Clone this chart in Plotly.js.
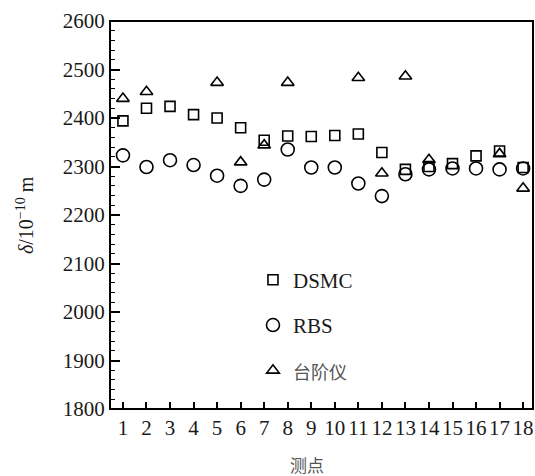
<!DOCTYPE html>
<html>
<head>
<meta charset="utf-8">
<script src="https://cdn.plot.ly/plotly-3.0.1.min.js"></script>
<style>html,body{margin:0;padding:0;background:#fff;}#chart{width:535px;height:476px;}</style>
</head>
<body>
<div id="chart"></div>
<script>
const points = [1,2,3,4,5,6,7,8,9,10,11,12,13,14,15,16,17,18];
const tickLabels = points.map(String);
const dsmc = [2394, 2420, 2424, 2407, 2400, 2380, 2354, 2363, 2362, 2364, 2367, 2329, 2294, 2300, 2306, 2322, 2332, 2298];
const rbs  = [2323, 2299, 2313, 2303, 2281, 2260, 2273, 2335, 2298, 2298, 2265, 2239, 2284, 2294, 2296, 2296, 2294, 2296];
const step = [2440, 2454, null, null, 2473, 2309, 2344, 2473, null, null, 2483, 2286, 2486, 2314, null, null, 2326, 2255];

const serif = 'Liberation Serif, Times New Roman, serif';
const cjk = 'Noto Sans CJK SC, sans-serif';

const mk = (sym, size) => ({symbol: sym, size: size, color: 'black', line: {color: 'black', width: 1.6}});

const traces = [
  {x: points, y: dsmc, type: 'scatter', mode: 'markers', name: 'DSMC', legendgroup: 'a', marker: mk('square-open', 10)},
  {x: points, y: rbs, type: 'scatter', mode: 'markers', name: 'RBS', legendgroup: 'b', marker: mk('circle-open', 13)},
  {x: points, y: step, type: 'scatter', mode: 'markers', name: '<span style="font-family:Noto Sans CJK SC;font-size:18px;color:#555">台阶仪</span>', legendgroup: 'c', marker: mk('triangle-up-open', 11)}
];

const layout = {
  width: 535, height: 476,
  margin: {l: 110, r: 2, t: 21, b: 67},
  paper_bgcolor: 'white', plot_bgcolor: 'white',
  font: {family: serif, size: 20, color: '#1a1a1a'},
  showlegend: true,
  legend: {x: 0.338, y: 0.385, xanchor: 'left', yanchor: 'top', bgcolor: 'rgba(0,0,0,0)',
           font: {family: serif, size: 21, color: '#1a1a1a'}, traceorder: 'grouped', tracegroupgap: 15},
  xaxis: {
    range: [0.45, 18.42], tickmode: 'array', tickvals: points, ticktext: tickLabels,
    ticks: 'inside', ticklen: 7, tickwidth: 2, tickcolor: 'black',
    showline: true, linecolor: 'black', linewidth: 1, mirror: true,
    showgrid: false, zeroline: false, tickfont: {family: serif, size: 21, color: '#1a1a1a'}
  },
  yaxis: {
    range: [1800, 2600], tickmode: 'linear', tick0: 1800, dtick: 100,
    ticks: 'inside', ticklen: 10, tickwidth: 2, tickcolor: 'black',
    minor: {ticks: 'inside', ticklen: 5, tickwidth: 1, tickcolor: 'black', dtick: 20, showgrid: false},
    showline: true, linecolor: 'black', linewidth: 1, mirror: true,
    showgrid: false, zeroline: false, tickfont: {family: serif, size: 21, color: '#1a1a1a'}
  },
  shapes: [
    {type: 'rect', xref: 'paper', yref: 'paper', x0: 0, x1: 1, y0: 0, y1: 1, line: {color: 'black', width: 2}, fillcolor: 'rgba(0,0,0,0)'}
  ],
  annotations: [
    {text: '测点', xref: 'paper', yref: 'paper', x: (307-110)/423, y: -(464-409)/388, xanchor: 'center', yanchor: 'middle',
     showarrow: false, font: {family: cjk, size: 17, color: '#555'}},
    {text: '<i>δ</i>/10<sup>−10</sup> m', xref: 'paper', yref: 'paper', x: -(110-25)/423, y: 0.5, xanchor: 'center', yanchor: 'middle',
     textangle: -90, showarrow: false, font: {family: serif, size: 20, color: '#1a1a1a'}}
  ]
};

Plotly.newPlot('chart', traces, layout, {displayModeBar: false, staticPlot: true});
</script>
</body>
</html>
